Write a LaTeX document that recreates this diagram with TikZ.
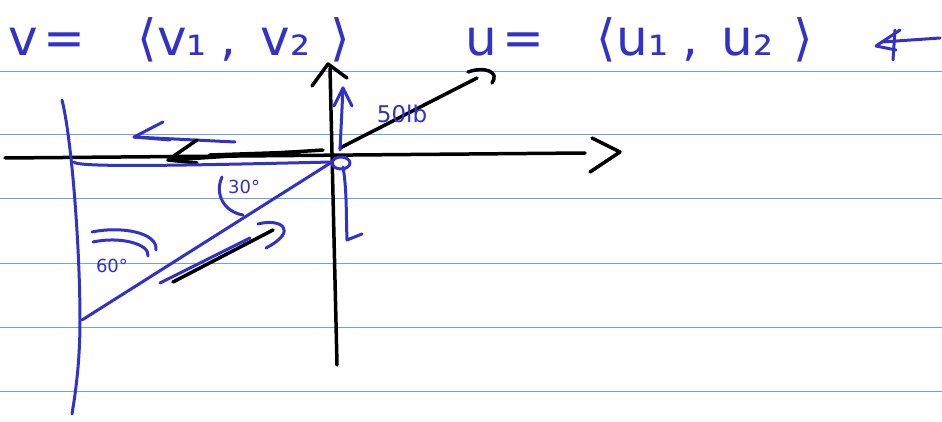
\documentclass[tikz,border=0pt]{standalone}
\usepackage{fontspec}
\setmainfont{DejaVu Sans}
\begin{document}
\begin{tikzpicture}[x=1pt,y=-1pt,
  rule/.style={draw={rgb,255:red,110;green,160;blue,230},line width=1pt},
  ink/.style={draw=black,line width=3.5pt,line cap=round,line join=round},
  pen/.style={draw=penblue,line width=3pt,line cap=round,line join=round},
  handtext/.style={text=penblue,inner sep=0pt,font=\fontsize{50}{54}\selectfont},
  small/.style={text=penblue,inner sep=0pt,font=\fontsize{18}{20}\selectfont}]
\definecolor{penblue}{RGB}{50,50,200}
\useasboundingbox (0,0) rectangle (942,422);
\fill[white] (0,0) rectangle (942,422);
% ruled lines
\foreach \yy in {72,135,199,263,327,391} \draw[rule] (0,\yy) -- (942,\yy);
% top text
\node[handtext,anchor=west] (vdef) at (8,40) {v\hspace{6pt}=\hspace{52pt}⟨v₁\hspace{14pt},\hspace{24pt}v₂\hspace{20pt}⟩};
\node[handtext,anchor=west] (udef) at (465,40) {u\hspace{6pt}=\hspace{52pt}⟨u₁\hspace{14pt},\hspace{24pt}u₂\hspace{20pt}⟩};
% mark after u
\draw[pen] (900,30) -- (876,46) -- (896,50);
\draw[pen] (895,30) -- (893,60);
\draw[pen] (882,42) -- (940,38);
% axes
\draw[ink] (5,158) -- (585,153);
\draw[ink] (592,138) -- (620,152) -- (590,172);
\draw[ink] (330,68) -- (337,365);
\draw[ink] (312,86) -- (328,64) -- (347,78);
% 50 lb vector
\draw[ink] (340,148) -- (477,78);
\draw[ink] (468,72) .. controls (485,66) and (500,72) .. (492,83);
\node[small] (lbl50) at (402,114) {\fontsize{23}{25}\selectfont 50lb};
% blue up arrow
\draw[pen] (340,150) -- (343,88);
\draw[pen] (334,106) -- (343,88) -- (352,106);
% blue left arrow (top)
\draw[pen] (163,122) -- (134,137) -- (235,142);
\draw[pen] (134,137) -- (170,140);
% black left arrow along axis
\draw[ink] (323,150) -- (170,160);
\draw[ink] (197,140) -- (168,160) -- (197,163);
\draw[ink] (210,155) -- (300,152);
% blue triangle
\draw[pen] (62,100) .. controls (72,140) and (80,250) .. (80,320) .. controls (80,360) and (76,390) .. (72,414);
\draw[pen] (74,162) .. controls (76,168) and (200,165) .. (332,162);
\draw[pen] (332,162) -- (82,320);
% small circle at origin
\draw[pen] (341,163) ellipse (9 and 6);
% 30 degree
\draw[pen] (222,177) .. controls (214,195) and (225,212) .. (243,215);
\node[small,anchor=west] (ang30) at (228,187) {30°};
% 60 degree
\draw[pen] (92,232) .. controls (120,226) and (158,232) .. (156,250);
\draw[pen] (93,242) .. controls (120,236) and (150,244) .. (148,256);
\node[small] (ang60) at (112,266) {60°};
% blue bracket right of y axis
\draw[pen] (343,167) .. controls (347,190) and (346,215) .. (347,240) -- (362,234);
% vector parallel to hypotenuse
\draw[pen] (160,283) -- (250,238);
\draw[ink] (173,282) -- (273,230);
\draw[pen] (258,224) .. controls (280,218) and (300,230) .. (266,248);
\end{tikzpicture}
\end{document}
